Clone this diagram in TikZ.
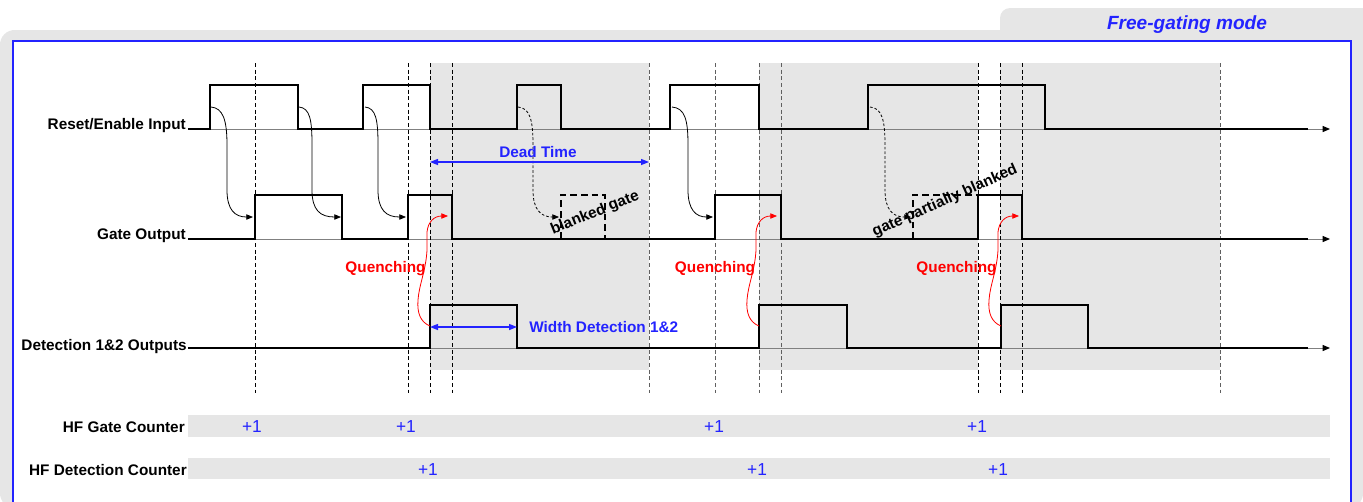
\documentclass[tikz,border=0pt]{standalone}
\usepackage{fontspec}
\setmainfont{Liberation Sans}
\usetikzlibrary{arrows.meta}
\definecolor{bggray}{RGB}{230,230,230}
\definecolor{myblue}{RGB}{35,35,255}
\definecolor{axisgray}{RGB}{128,128,128}
\definecolor{dashgray}{RGB}{95,95,95}
\begin{document}
\begin{tikzpicture}[x=0.75pt,y=-0.75pt,
  lbl/.style={font=\fontsize{11.5}{13}\selectfont\bfseries, inner sep=0pt},
  plusone/.style={font=\fontsize{13}{15}\selectfont, text=myblue, inner sep=0pt, anchor=base},
  sig/.style={line width=1.6pt, line join=miter},
  axisline/.style={axisgray, line width=0.75pt, -{Triangle[length=5.5pt,width=4.5pt,color=black]}},
  vdash/.style={line width=0.7pt, dash pattern=on 3pt off 2pt},
  gatedash/.style={line width=1.3pt, dash pattern=on 5pt off 3pt},
  cur/.style={line width=0.6pt, -{Triangle[length=5pt,width=4pt]}},
  qarrow/.style={red, line width=0.6pt, -{Triangle[length=5pt,width=4pt]}},
  darrow/.style={myblue, line width=1pt, {Triangle[length=6pt,width=4.5pt]}-{Triangle[length=6pt,width=4.5pt]}},
  shade/.style={fill=bggray},
  qlabel/.style={lbl, text=red, anchor=base},
  bluelabel/.style={lbl, text=myblue}]
\clip (0,0) rectangle (1363,501);
% frame
\fill[bggray, rounded corners=7.5pt] (1000,8) rectangle (1420,80);
\fill[bggray, rounded corners=11pt] (0,30) rectangle (1363,508);
\draw[myblue, line width=1.5pt, fill=white] (12.5,41) rectangle (1351,530);
\node[font=\fontsize{14.3}{16}\selectfont\bfseries\itshape, text=myblue, inner sep=0pt, anchor=base] (title) at (1187,29) {Free-gating mode};
% shaded regions
\fill[shade] (430,63) rectangle (649,370);
\fill[shade] (759,63) rectangle (978,370);
\fill[shade] (1000,63) rectangle (1220,370);
% counter bars
\fill[shade] (188,415) rectangle (1330,437);
\fill[shade] (188,458) rectangle (1330,479);
% axes
\coordinate (a1s) at (188,129); \coordinate (a1e) at (1330,129);
\coordinate (a2s) at (188,239); \coordinate (a2e) at (1330,239);
\coordinate (a3s) at (188,348); \coordinate (a3e) at (1330,348);
\draw[axisline] (a1s) -- (a1e);
\draw[axisline] (a2s) -- (a2e);
\draw[axisline] (a3s) -- (a3e);
% vertical dashed lines
\foreach \x in {255,408,430,452,978,1000,1022} \draw[vdash] (\x,63) -- (\x,393);
\foreach \x in {649,715,759,781,1220} \draw[vdash, dashgray] (\x,63) -- (\x,393);
% signals
\draw[sig] (188,129) -| (210,85) -| (298,129) -| (363,85) -| (430,129) -| (517,85) -| (561,129) -| (670,85) -| (759,129) -| (868,85) -| (1045,129) -- (1308,129);
\draw[sig] (188,239) -| (255,195) -| (342,239) -| (408,195) -| (452,239) -| (715,195) -| (781,239) -| (978,195) -| (1022,239) -- (1308,239);
\draw[sig] (188,348) -| (430,305) -| (517,348) -| (759,305) -| (847,348) -| (1001,305) -| (1088,348) -- (1308,348);
% blanked gates
\draw[gatedash] (561,239) -- (561,195) -- (605,195) -- (605,239);
\draw[gatedash] (913,239) -- (913,195) -- (978,195);
% reset -> gate curves
\draw[cur] (211,107) .. controls (223,108) and (227,120) .. (227,145) -- (227,190) .. controls (227,210) and (235,217) .. (253,217);
\draw[cur] (299,107) .. controls (310,108) and (312,120) .. (312,145) -- (312,190) .. controls (312,210) and (320,217) .. (341,217);
\draw[cur] (365,107) .. controls (376,108) and (378,120) .. (378,145) -- (378,190) .. controls (378,210) and (386,217) .. (406,217);
\draw[cur, dashed, dash pattern=on 2pt off 1.5pt] (518,107) .. controls (530,108) and (533,120) .. (533,145) -- (533,190) .. controls (533,210) and (541,217) .. (559,217);
\draw[cur] (672,107) .. controls (685,108) and (688,120) .. (688,145) -- (688,190) .. controls (688,210) and (696,217) .. (713,217);
\draw[cur, dashed, dash pattern=on 2pt off 1.5pt] (870,107) .. controls (882,108) and (885,120) .. (885,145) -- (885,190) .. controls (885,210) and (893,217) .. (911,217);
% quenching arrows
\foreach \s in {0,329,571}{
  \draw[qarrow] (430+\s,326) .. controls (420+\s,322) and (417+\s,312) .. (418+\s,300) .. controls (419+\s,285) and (426+\s,270) .. (427+\s,250) -- (427+\s,232) .. controls (428+\s,222) and (434+\s,216) .. (448+\s,216);
}
% dead time / width arrows
\coordinate (dtl) at (430,162); \coordinate (dtr) at (649,162);
\coordinate (wdl) at (430,327); \coordinate (wdr) at (517,327);
\draw[darrow] (dtl) -- (dtr);
\draw[darrow] (wdl) -- (wdr);
% labels
\node[lbl, anchor=base east] (l1) at (186,129) {Reset/Enable Input};
\node[lbl, anchor=base east] (l2) at (186,239) {Gate Output};
\node[lbl, anchor=base east] (l3) at (187,350) {Detection 1\&2 Outputs};
\node[lbl, anchor=base east] (l4) at (185,432) {HF Gate Counter};
\node[lbl, anchor=base east] (l5) at (187,475) {HF Detection Counter};
\node[bluelabel, anchor=base] (dt) at (538,157) {Dead Time};
\node[bluelabel, anchor=base west] (wd) at (529,332) {Width Detection 1\&2};
\node[qlabel] (q1) at (385.5,272) {Quenching};
\node[qlabel] (q2) at (715,272) {Quenching};
\node[qlabel] (q3) at (956.5,272) {Quenching};
\node[lbl, rotate=22] (bg) at (595,213) {blanked gate};
\node[lbl, rotate=24] (pb) at (945,201) {gate partially blanked};
% counters
\node[plusone] (g1) at (252,432) {+1};
\node[plusone] (g2) at (406,432) {+1};
\node[plusone] (g3) at (714,432) {+1};
\node[plusone] (g4) at (977,432) {+1};
\node[plusone] (d1) at (428,475) {+1};
\node[plusone] (d2) at (757,475) {+1};
\node[plusone] (d3) at (998,475) {+1};
\end{tikzpicture}
\end{document}
